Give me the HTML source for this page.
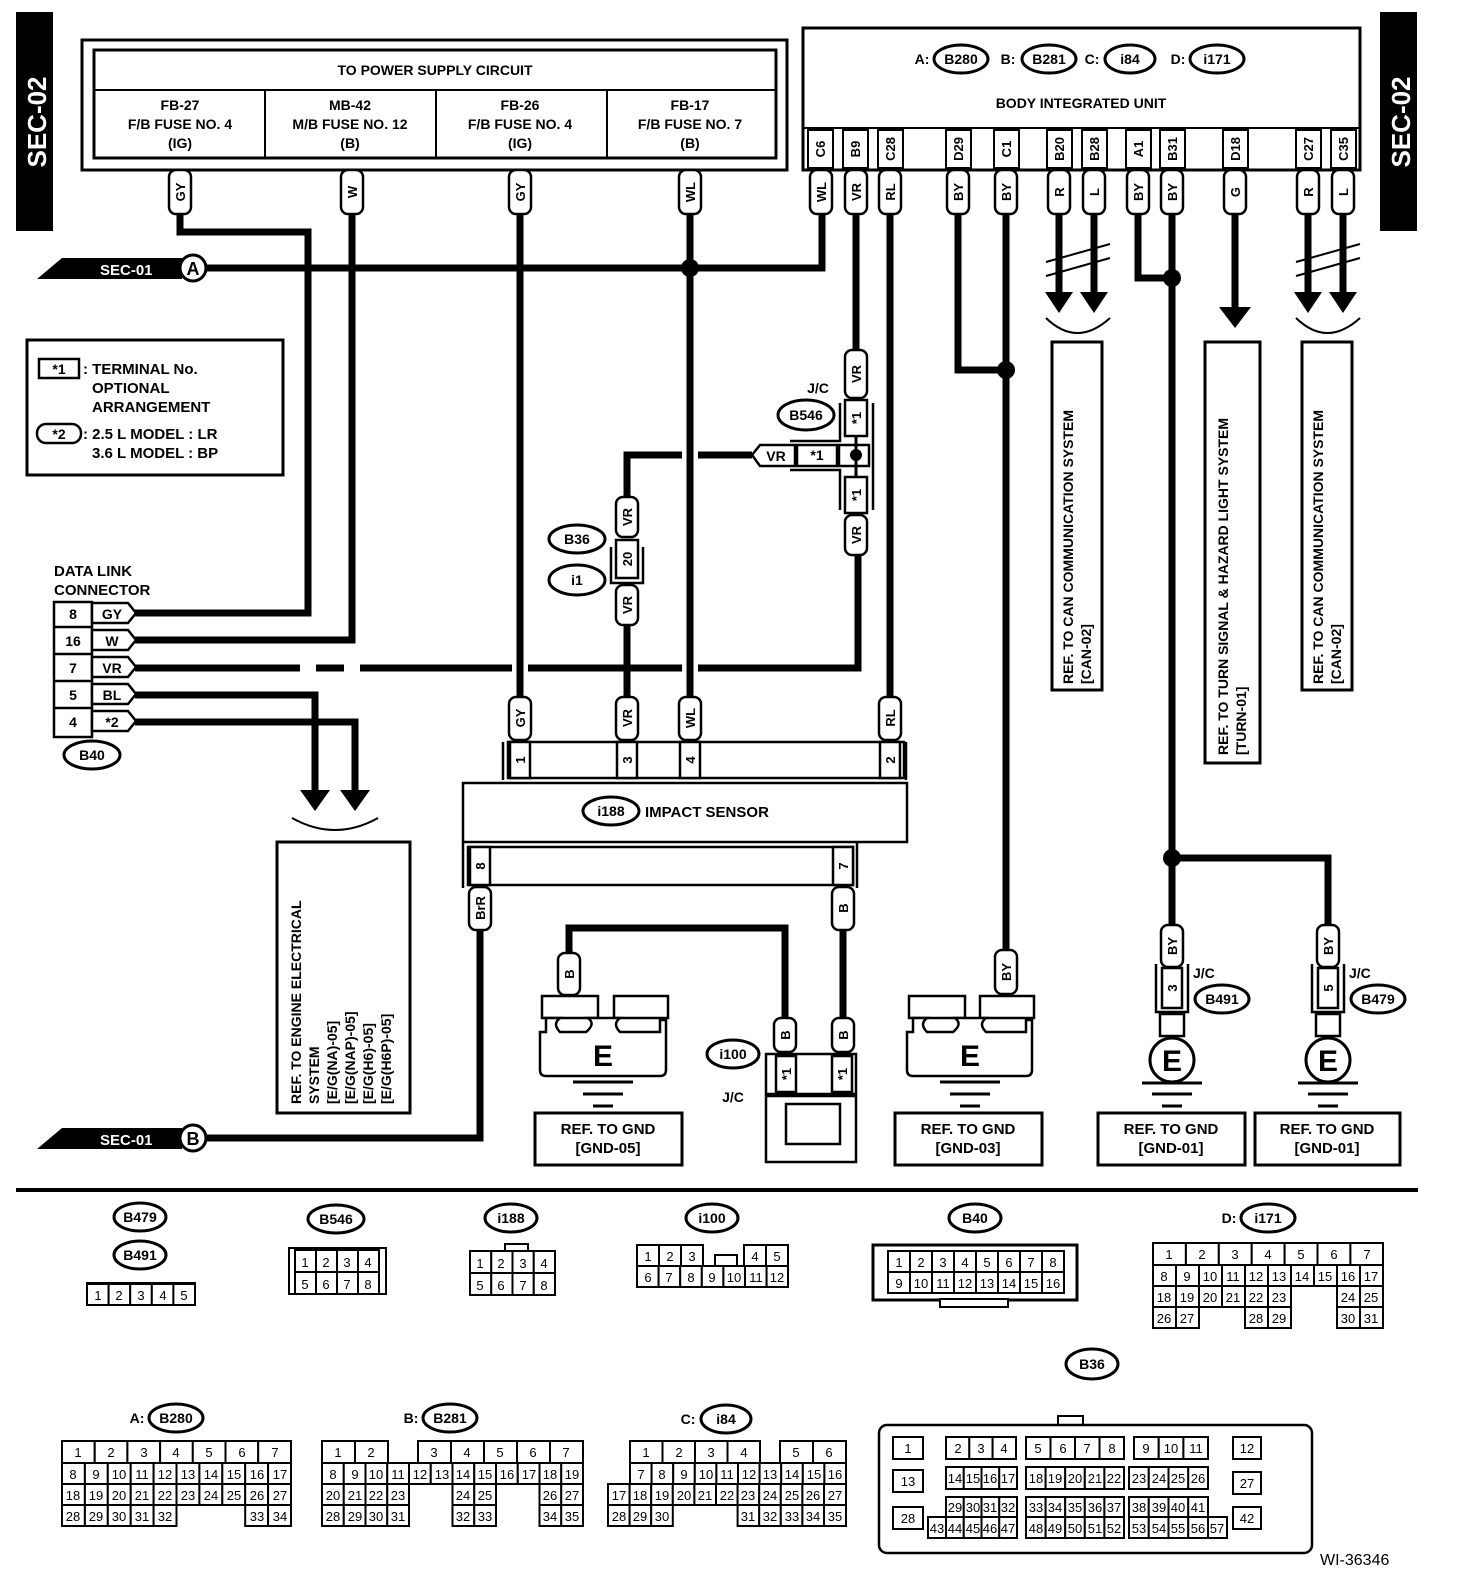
<!DOCTYPE html>
<html><head><meta charset="utf-8"><style>
html,body{margin:0;padding:0;background:#fff;}
svg{display:block;}
text{font-family:"Liberation Sans",sans-serif;font-weight:bold;fill:#000;}
.t{font-size:14px;text-anchor:middle;}
.tg{font-size:13px;text-anchor:middle;}
.g rect{fill:#fff;stroke:#000;stroke-width:2;}
.g text{font-size:13px;font-weight:normal;text-anchor:middle;}
.w{stroke:#000;stroke-width:7;fill:none;}
.tag{fill:#fff;stroke:#000;stroke-width:2.5;}
.ov{fill:#fff;stroke:#000;stroke-width:3;}
</style></head><body>
<svg width="1472" height="1596" viewBox="0 0 1472 1596" xmlns="http://www.w3.org/2000/svg">
<rect width="1472" height="1596" fill="#fff"/>
<!-- SEC-02 tabs -->
<rect x="16" y="12" width="37" height="219" fill="#000"/>
<text transform="translate(46,122) rotate(-90)" style="font-size:26px;fill:#fff;text-anchor:middle">SEC-02</text>
<rect x="1380" y="12" width="37" height="219" fill="#000"/>
<text transform="translate(1410,122) rotate(-90)" style="font-size:26px;fill:#fff;text-anchor:middle">SEC-02</text>

<!-- Power supply box -->
<rect x="82" y="40" width="705" height="130" fill="none" stroke="#000" stroke-width="3"/>
<rect x="94" y="50" width="682" height="108" fill="none" stroke="#000" stroke-width="3"/>
<line x1="94" y1="90" x2="776" y2="90" stroke="#000" stroke-width="2"/>
<line x1="265" y1="90" x2="265" y2="158" stroke="#000" stroke-width="2"/>
<line x1="436" y1="90" x2="436" y2="158" stroke="#000" stroke-width="2"/>
<line x1="607" y1="90" x2="607" y2="158" stroke="#000" stroke-width="2"/>
<text class="t" x="435" y="75">TO POWER SUPPLY CIRCUIT</text>
<text class="t" x="180" y="110">FB-27</text><text class="t" x="180" y="129">F/B FUSE NO. 4</text><text class="t" x="180" y="148">(IG)</text>
<text class="t" x="350" y="110">MB-42</text><text class="t" x="350" y="129">M/B FUSE NO. 12</text><text class="t" x="350" y="148">(B)</text>
<text class="t" x="520" y="110">FB-26</text><text class="t" x="520" y="129">F/B FUSE NO. 4</text><text class="t" x="520" y="148">(IG)</text>
<text class="t" x="690" y="110">FB-17</text><text class="t" x="690" y="129">F/B FUSE NO. 7</text><text class="t" x="690" y="148">(B)</text>

<!-- Body integrated unit -->
<rect x="803" y="28" width="557" height="142" fill="none" stroke="#000" stroke-width="3"/>
<line x1="803" y1="128" x2="1360" y2="128" stroke="#000" stroke-width="2"/>
<text class="t" x="922" y="64">A:</text><ellipse class="ov" cx="961" cy="59" rx="27" ry="14"/><text class="t" x="961" y="64">B280</text>
<text class="t" x="1008" y="64">B:</text><ellipse class="ov" cx="1049" cy="59" rx="27" ry="14"/><text class="t" x="1049" y="64">B281</text>
<text class="t" x="1092" y="64">C:</text><ellipse class="ov" cx="1130" cy="59" rx="25" ry="14"/><text class="t" x="1130" y="64">i84</text>
<text class="t" x="1178" y="64">D:</text><ellipse class="ov" cx="1217" cy="59" rx="27" ry="14"/><text class="t" x="1217" y="64">i171</text>
<text class="t" x="1081" y="108">BODY INTEGRATED UNIT</text>
<g stroke="#000" stroke-width="2" fill="#fff">
<rect x="808" y="130" width="25" height="38"/><rect x="843" y="130" width="25" height="38"/><rect x="878" y="130" width="25" height="38"/>
<rect x="946" y="130" width="25" height="38"/><rect x="994" y="130" width="25" height="38"/><rect x="1047" y="130" width="25" height="38"/>
<rect x="1082" y="130" width="25" height="38"/><rect x="1126" y="130" width="25" height="38"/><rect x="1160" y="130" width="25" height="38"/>
<rect x="1223" y="130" width="25" height="38"/><rect x="1296" y="130" width="25" height="38"/><rect x="1331" y="130" width="25" height="38"/>
</g>
<g class="tg">
<text transform="translate(825,149) rotate(-90)" class="tg">C6</text>
<text transform="translate(860,149) rotate(-90)" class="tg">B9</text>
<text transform="translate(895,149) rotate(-90)" class="tg">C28</text>
<text transform="translate(963,149) rotate(-90)" class="tg">D29</text>
<text transform="translate(1011,149) rotate(-90)" class="tg">C1</text>
<text transform="translate(1064,149) rotate(-90)" class="tg">B20</text>
<text transform="translate(1099,149) rotate(-90)" class="tg">B28</text>
<text transform="translate(1143,149) rotate(-90)" class="tg">A1</text>
<text transform="translate(1177,149) rotate(-90)" class="tg">B31</text>
<text transform="translate(1240,149) rotate(-90)" class="tg">D18</text>
<text transform="translate(1313,149) rotate(-90)" class="tg">C27</text>
<text transform="translate(1348,149) rotate(-90)" class="tg">C35</text>
</g>

<!-- SEC-01 A -->
<polygon points="37,279 62,258 182,258 182,279" fill="#000"/>
<text x="100" y="275" style="font-size:15px;fill:#fff">SEC-01</text>
<circle cx="193" cy="268" r="13" fill="#fff" stroke="#000" stroke-width="3"/>
<text class="t" x="193" y="275" style="font-size:18px">A</text>

<!-- Wires -->
<polyline class="w" points="180,214 180,232 308,232 308,613 135,613"/>
<polyline class="w" points="352,214 352,640 135,640"/>
<line class="w" x1="520" y1="214" x2="520" y2="697"/>
<line class="w" x1="690" y1="214" x2="690" y2="697"/>
<polyline class="w" points="205,268 822,268 822,214"/>
<circle cx="690" cy="268" r="9" fill="#000"/>
<line class="w" x1="856" y1="214" x2="856" y2="350"/>
<line class="w" x1="890" y1="214" x2="890" y2="697"/>
<polyline class="w" points="958,214 958,370 1006,370"/>
<line class="w" x1="1006" y1="214" x2="1006" y2="950"/>
<circle cx="1006" cy="370" r="9" fill="#000"/>
<line class="w" x1="1059" y1="214" x2="1059" y2="295"/>
<line class="w" x1="1094" y1="214" x2="1094" y2="295"/>
<polyline class="w" points="1138,214 1138,278 1172,278"/>
<line class="w" x1="1172" y1="214" x2="1172" y2="925"/>
<circle cx="1172" cy="278" r="9" fill="#000"/>
<polyline class="w" points="1172,858 1328,858 1328,925"/>
<circle cx="1172" cy="858" r="9" fill="#000"/>
<line class="w" x1="1235" y1="214" x2="1235" y2="310"/>
<line class="w" x1="1308" y1="214" x2="1308" y2="295"/>
<line class="w" x1="1343" y1="214" x2="1343" y2="295"/>
<!-- VR line with gaps -->
<polyline class="w" points="135,668 300,668"/>
<polyline class="w" points="316,668 344,668"/>
<polyline class="w" points="360,668 512,668"/>
<polyline class="w" points="528,668 682,668"/>
<polyline class="w" points="698,668 858,668 858,553"/>
<polyline class="w" points="135,695 315,695 315,795"/>
<polyline class="w" points="135,722 355,722 355,795"/>
<polyline class="w" points="752,455 698,455"/>
<polyline class="w" points="682,455 627,455 627,497"/>
<line class="w" x1="627" y1="623" x2="627" y2="697"/>
<polyline class="w" points="480,930 480,1138 205,1138"/>
<polyline class="w" points="843,930 843,1018"/>
<polyline class="w" points="569,958 569,928 785,928 785,1018"/>

<!-- arrows -->
<g fill="#000">
<polygon points="1045,292 1073,292 1059,313"/><polygon points="1080,292 1108,292 1094,313"/>
<polygon points="1294,292 1322,292 1308,313"/><polygon points="1329,292 1357,292 1343,313"/>
<polygon points="1219,307 1251,307 1235,328"/>
<polygon points="300,790 330,790 315,811"/><polygon points="340,790 370,790 355,811"/>
</g>
<g stroke="#000" fill="none" stroke-width="2">
<path d="M1046,318 Q1077,348 1110,318"/>
<path d="M1296,318 Q1327,348 1360,318"/>
<path d="M292,818 Q335,842 378,818"/>
<path d="M1046,262 L1110,244 M1046,276 L1110,258"/>
<path d="M1296,262 L1360,244 M1296,276 L1360,258"/>
</g>

<!-- Wire tags top -->
<g>
<rect class="tag" x="169" y="170" width="22" height="44" rx="7"/><text class="tg" transform="translate(185,192) rotate(-90)">GY</text>
<rect class="tag" x="341" y="170" width="22" height="44" rx="7"/><text class="tg" transform="translate(357,192) rotate(-90)">W</text>
<rect class="tag" x="509" y="170" width="22" height="44" rx="7"/><text class="tg" transform="translate(525,192) rotate(-90)">GY</text>
<rect class="tag" x="679" y="170" width="22" height="44" rx="7"/><text class="tg" transform="translate(695,192) rotate(-90)">WL</text>
<rect class="tag" x="810" y="170" width="22" height="44" rx="7"/><text class="tg" transform="translate(826,192) rotate(-90)">WL</text>
<rect class="tag" x="845" y="170" width="22" height="44" rx="7"/><text class="tg" transform="translate(861,192) rotate(-90)">VR</text>
<rect class="tag" x="879" y="170" width="22" height="44" rx="7"/><text class="tg" transform="translate(895,192) rotate(-90)">RL</text>
<rect class="tag" x="947" y="170" width="22" height="44" rx="7"/><text class="tg" transform="translate(963,192) rotate(-90)">BY</text>
<rect class="tag" x="995" y="170" width="22" height="44" rx="7"/><text class="tg" transform="translate(1011,192) rotate(-90)">BY</text>
<rect class="tag" x="1048" y="170" width="22" height="44" rx="7"/><text class="tg" transform="translate(1064,192) rotate(-90)">R</text>
<rect class="tag" x="1083" y="170" width="22" height="44" rx="7"/><text class="tg" transform="translate(1099,192) rotate(-90)">L</text>
<rect class="tag" x="1127" y="170" width="22" height="44" rx="7"/><text class="tg" transform="translate(1143,192) rotate(-90)">BY</text>
<rect class="tag" x="1161" y="170" width="22" height="44" rx="7"/><text class="tg" transform="translate(1177,192) rotate(-90)">BY</text>
<rect class="tag" x="1224" y="170" width="22" height="44" rx="7"/><text class="tg" transform="translate(1240,192) rotate(-90)">G</text>
<rect class="tag" x="1297" y="170" width="22" height="44" rx="7"/><text class="tg" transform="translate(1313,192) rotate(-90)">R</text>
<rect class="tag" x="1332" y="170" width="22" height="44" rx="7"/><text class="tg" transform="translate(1348,192) rotate(-90)">L</text>
</g>

<!-- REF boxes right -->
<g fill="none" stroke="#000" stroke-width="3">
<rect x="1052" y="342" width="50" height="348"/>
<rect x="1205" y="342" width="55" height="421"/>
<rect x="1302" y="342" width="50" height="348"/>
<rect x="277" y="842" width="133" height="271"/>
</g>
<text transform="translate(1073,684) rotate(-90)" style="font-size:14px">REF. TO CAN COMMUNICATION SYSTEM</text>
<text transform="translate(1091,684) rotate(-90)" style="font-size:14px">[CAN-02]</text>
<text transform="translate(1228,755) rotate(-90)" style="font-size:14px">REF. TO TURN SIGNAL &amp; HAZARD LIGHT SYSTEM</text>
<text transform="translate(1246,755) rotate(-90)" style="font-size:14px">[TURN-01]</text>
<text transform="translate(1323,684) rotate(-90)" style="font-size:14px">REF. TO CAN COMMUNICATION SYSTEM</text>
<text transform="translate(1341,684) rotate(-90)" style="font-size:14px">[CAN-02]</text>
<text transform="translate(301,1104) rotate(-90)" style="font-size:14px">REF. TO ENGINE ELECTRICAL</text>
<text transform="translate(319,1104) rotate(-90)" style="font-size:14px">SYSTEM</text>
<text transform="translate(337,1104) rotate(-90)" style="font-size:14px">[E/G(NA)-05]</text>
<text transform="translate(355,1104) rotate(-90)" style="font-size:14px">[E/G(NAP)-05]</text>
<text transform="translate(373,1104) rotate(-90)" style="font-size:14px">[E/G(H6)-05]</text>
<text transform="translate(391,1104) rotate(-90)" style="font-size:14px">[E/G(H6P)-05]</text>

<!-- Legend -->
<rect x="27" y="340" width="256" height="135" fill="none" stroke="#000" stroke-width="3"/>
<rect x="39" y="359" width="40" height="19" fill="#fff" stroke="#000" stroke-width="2.5"/>
<text class="t" x="59" y="374">*1</text>
<text x="83" y="374" style="font-size:15px">: TERMINAL No.</text>
<text x="92" y="393" style="font-size:15px">OPTIONAL</text>
<text x="92" y="412" style="font-size:15px">ARRANGEMENT</text>
<rect x="37" y="424" width="44" height="19" rx="9" fill="#fff" stroke="#000" stroke-width="2.5"/>
<text class="t" x="59" y="439">*2</text>
<text x="83" y="439" style="font-size:15px">: 2.5 L MODEL  : LR</text>
<text x="92" y="458" style="font-size:15px">3.6 L MODEL  : BP</text>

<!-- Data link connector -->
<text x="54" y="576" style="font-size:15px">DATA LINK</text>
<text x="54" y="595" style="font-size:15px">CONNECTOR</text>
<g stroke="#000" stroke-width="2.5" fill="#fff">
<rect x="54" y="602" width="38" height="135" />
<path d="M92,603 H128 L136,613 L128,623 H92 Z M92,630 H128 L136,640 L128,650 H92 Z M92,657 H128 L136,667 L128,677 H92 Z M92,684 H128 L136,694 L128,704 H92 Z M92,711 H128 L136,721 L128,731 H92 Z"/>
<line x1="54" y1="627" x2="92" y2="627"/><line x1="54" y1="654" x2="92" y2="654"/><line x1="54" y1="681" x2="92" y2="681"/><line x1="54" y1="708" x2="92" y2="708"/>
</g>
<text class="t" x="73" y="619">8</text><text class="t" x="73" y="646">16</text><text class="t" x="73" y="673">7</text><text class="t" x="73" y="700">5</text><text class="t" x="73" y="727">4</text>
<text class="t" x="112" y="619">GY</text><text class="t" x="112" y="646">W</text><text class="t" x="112" y="673">VR</text><text class="t" x="112" y="700">BL</text><text class="t" x="112" y="727">*2</text>
<ellipse class="ov" cx="92" cy="755" rx="28" ry="14"/><text class="t" x="92" y="760">B40</text>

<!-- B546 J/C -->
<text class="t" x="818" y="393">J/C</text>
<ellipse class="ov" cx="806" cy="415" rx="28" ry="15"/><text class="t" x="806" y="420">B546</text>
<rect class="tag" x="845" y="350" width="22" height="48" rx="7"/><text class="tg" transform="translate(861,374) rotate(-90)">VR</text>
<g stroke="#000" stroke-width="2.5" fill="#fff">
<rect x="845" y="400" width="22" height="36"/><rect x="845" y="477" width="22" height="36"/>
<rect x="797" y="445" width="40" height="21"/>
<rect x="839" y="445" width="30" height="21"/>
</g>
<g stroke="#000" stroke-width="2.5" fill="none">
<path d="M840,403 V441 H790 M873,403 V510 M840,510 V470 H790"/>
</g>
<line x1="856" y1="436" x2="856" y2="477" stroke="#000" stroke-width="3"/>
<circle cx="856" cy="455" r="6" fill="#000"/>
<text class="tg" transform="translate(861,418) rotate(-90)">*1</text>
<text class="tg" transform="translate(861,495) rotate(-90)">*1</text>
<text class="t" x="817" y="460">*1</text>
<path class="tag" d="M752,455 L760,445 H795 V466 H760 Z"/><text class="t" x="776" y="461">VR</text>
<rect class="tag" x="845" y="515" width="22" height="40" rx="7"/><text class="tg" transform="translate(861,535) rotate(-90)">VR</text>

<!-- B36/i1 -->
<rect class="tag" x="616" y="497" width="22" height="40" rx="7"/><text class="tg" transform="translate(632,517) rotate(-90)">VR</text>
<rect x="616" y="540" width="22" height="38" fill="#fff" stroke="#000" stroke-width="2.5"/><text class="tg" transform="translate(632,559) rotate(-90)">20</text>
<path d="M611,547 V583 H643 V547" fill="none" stroke="#000" stroke-width="2.5"/>
<rect class="tag" x="616" y="585" width="22" height="40" rx="7"/><text class="tg" transform="translate(632,605) rotate(-90)">VR</text>
<ellipse class="ov" cx="577" cy="539" rx="28" ry="14"/><text class="t" x="577" y="544">B36</text>
<ellipse class="ov" cx="577" cy="580" rx="28" ry="15"/><text class="t" x="577" y="585">i1</text>

<!-- i188 impact sensor -->
<g>
<rect class="tag" x="509" y="697" width="22" height="43" rx="7"/><text class="tg" transform="translate(525,718) rotate(-90)">GY</text>
<rect class="tag" x="616" y="697" width="22" height="43" rx="7"/><text class="tg" transform="translate(632,718) rotate(-90)">VR</text>
<rect class="tag" x="679" y="697" width="22" height="43" rx="7"/><text class="tg" transform="translate(695,718) rotate(-90)">WL</text>
<rect class="tag" x="879" y="697" width="22" height="43" rx="7"/><text class="tg" transform="translate(895,718) rotate(-90)">RL</text>
</g>
<g stroke="#000" stroke-width="2.5" fill="none">
<path d="M503,780 V742 M906,780 V742"/>
<rect x="508" y="742" width="396" height="36"/>
<rect x="463" y="783" width="444" height="59"/>
<rect x="468" y="847" width="385" height="38"/>
<path d="M463,842 V888 M857,842 V888"/>
</g>
<g stroke="#000" stroke-width="2.5" fill="#fff">
<rect x="510" y="742" width="20" height="36"/><rect x="617" y="742" width="20" height="36"/><rect x="680" y="742" width="20" height="36"/><rect x="880" y="742" width="20" height="36"/>
<rect x="470" y="847" width="20" height="38"/><rect x="833" y="847" width="20" height="38"/>
</g>
<text class="tg" transform="translate(525,760) rotate(-90)">1</text>
<text class="tg" transform="translate(632,760) rotate(-90)">3</text>
<text class="tg" transform="translate(695,760) rotate(-90)">4</text>
<text class="tg" transform="translate(895,760) rotate(-90)">2</text>
<text class="tg" transform="translate(485,866) rotate(-90)">8</text>
<text class="tg" transform="translate(848,866) rotate(-90)">7</text>
<ellipse class="ov" cx="611" cy="811" rx="28" ry="14"/><text class="t" x="611" y="816">i188</text>
<text x="645" y="817" style="font-size:15px">IMPACT SENSOR</text>
<rect class="tag" x="469" y="887" width="22" height="43" rx="7"/><text class="tg" transform="translate(485,908) rotate(-90)">BrR</text>
<rect class="tag" x="832" y="887" width="22" height="43" rx="7"/><text class="tg" transform="translate(848,908) rotate(-90)">B</text>

<!-- SEC-01 B -->
<polygon points="37,1149 62,1128 182,1128 182,1149" fill="#000"/>
<text x="100" y="1145" style="font-size:15px;fill:#fff">SEC-01</text>
<circle cx="193" cy="1138" r="13" fill="#fff" stroke="#000" stroke-width="3"/>
<text class="t" x="193" y="1145" style="font-size:18px">B</text>

<!-- Ground left -->
<rect class="tag" x="558" y="953" width="22" height="42" rx="7"/><text class="tg" transform="translate(574,974) rotate(-90)">B</text>
<g stroke="#000" stroke-width="2.5" fill="#fff">
<rect x="542" y="996" width="56" height="22"/><rect x="614" y="996" width="54" height="22"/>
<path d="M546,1018 H560 Q552,1024 560,1032 H586 Q596,1024 588,1018 H620 Q612,1024 620,1032 H660 V1020 H666 V1070 Q666,1076 660,1076 H546 Q540,1076 540,1070 V1032 H546 Z"/>
</g>
<text class="t" x="603" y="1066" style="font-size:30px">E</text>
<g stroke="#000" stroke-width="3"><line x1="573" y1="1082" x2="633" y2="1082"/><line x1="583" y1="1094" x2="623" y2="1094"/><line x1="593" y1="1106" x2="613" y2="1106"/></g>
<rect x="535" y="1113" width="147" height="52" fill="none" stroke="#000" stroke-width="3"/>
<text class="t" x="608" y="1134" style="font-size:15px">REF. TO GND</text><text class="t" x="608" y="1153" style="font-size:15px">[GND-05]</text>

<!-- Ground middle -->
<rect class="tag" x="995" y="950" width="22" height="44" rx="7"/><text class="tg" transform="translate(1011,972) rotate(-90)">BY</text>
<g stroke="#000" stroke-width="2.5" fill="#fff">
<rect x="909" y="996" width="56" height="22"/><rect x="980" y="996" width="54" height="22"/>
<path d="M913,1018 H927 Q919,1024 927,1032 H953 Q963,1024 955,1018 H986 Q978,1024 986,1032 H1026 V1020 H1032 V1070 Q1032,1076 1026,1076 H913 Q907,1076 907,1070 V1032 H913 Z"/>
</g>
<text class="t" x="970" y="1066" style="font-size:30px">E</text>
<g stroke="#000" stroke-width="3"><line x1="940" y1="1082" x2="1000" y2="1082"/><line x1="950" y1="1094" x2="990" y2="1094"/><line x1="960" y1="1106" x2="980" y2="1106"/></g>
<rect x="895" y="1113" width="147" height="52" fill="none" stroke="#000" stroke-width="3"/>
<text class="t" x="968" y="1134" style="font-size:15px">REF. TO GND</text><text class="t" x="968" y="1153" style="font-size:15px">[GND-03]</text>

<!-- Ground B491 / B479 -->
<g>
<rect class="tag" x="1161" y="925" width="22" height="42" rx="7"/><text class="tg" transform="translate(1177,946) rotate(-90)">BY</text>
<rect x="1162" y="968" width="20" height="40" fill="#fff" stroke="#000" stroke-width="2.5"/><text class="tg" transform="translate(1177,988) rotate(-90)">3</text>
<path d="M1156,964 V1012 H1188 V964" fill="none" stroke="#000" stroke-width="2.5"/>
<rect x="1160" y="1014" width="24" height="22" fill="#fff" stroke="#000" stroke-width="2.5"/>
<circle cx="1172" cy="1060" r="22" fill="#fff" stroke="#000" stroke-width="3"/>
<text class="t" x="1172" y="1071" style="font-size:30px">E</text>
<g stroke="#000" stroke-width="3"><line x1="1142" y1="1083" x2="1202" y2="1083"/><line x1="1152" y1="1094" x2="1192" y2="1094"/><line x1="1162" y1="1106" x2="1182" y2="1106"/></g>
<text x="1193" y="978" style="font-size:14px">J/C</text>
<ellipse class="ov" cx="1222" cy="999" rx="27" ry="14"/><text class="t" x="1222" y="1004">B491</text>
<rect x="1098" y="1113" width="147" height="52" fill="none" stroke="#000" stroke-width="3"/>
<text class="t" x="1171" y="1134" style="font-size:15px">REF. TO GND</text><text class="t" x="1171" y="1153" style="font-size:15px">[GND-01]</text>
</g>
<g>
<rect class="tag" x="1317" y="925" width="22" height="42" rx="7"/><text class="tg" transform="translate(1333,946) rotate(-90)">BY</text>
<rect x="1318" y="968" width="20" height="40" fill="#fff" stroke="#000" stroke-width="2.5"/><text class="tg" transform="translate(1333,988) rotate(-90)">5</text>
<path d="M1312,964 V1012 H1344 V964" fill="none" stroke="#000" stroke-width="2.5"/>
<rect x="1316" y="1014" width="24" height="22" fill="#fff" stroke="#000" stroke-width="2.5"/>
<circle cx="1328" cy="1060" r="22" fill="#fff" stroke="#000" stroke-width="3"/>
<text class="t" x="1328" y="1071" style="font-size:30px">E</text>
<g stroke="#000" stroke-width="3"><line x1="1298" y1="1083" x2="1358" y2="1083"/><line x1="1308" y1="1094" x2="1348" y2="1094"/><line x1="1318" y1="1106" x2="1338" y2="1106"/></g>
<text x="1349" y="978" style="font-size:14px">J/C</text>
<ellipse class="ov" cx="1378" cy="999" rx="27" ry="14"/><text class="t" x="1378" y="1004">B479</text>
<rect x="1255" y="1113" width="145" height="52" fill="none" stroke="#000" stroke-width="3"/>
<text class="t" x="1327" y="1134" style="font-size:15px">REF. TO GND</text><text class="t" x="1327" y="1153" style="font-size:15px">[GND-01]</text>
</g>

<!-- i100 J/C -->
<rect class="tag" x="774" y="1018" width="22" height="34" rx="7"/><text class="tg" transform="translate(790,1035) rotate(-90)">B</text>
<rect class="tag" x="832" y="1018" width="22" height="34" rx="7"/><text class="tg" transform="translate(848,1035) rotate(-90)">B</text>
<g stroke="#000" stroke-width="2.5" fill="#fff">
<rect x="766" y="1054" width="90" height="40"/>
<rect x="776" y="1056" width="20" height="36"/><rect x="832" y="1056" width="20" height="36"/>
<rect x="766" y="1096" width="90" height="66"/>
<rect x="786" y="1104" width="54" height="40"/>
</g>
<text class="tg" transform="translate(791,1074) rotate(-90)">*1</text>
<text class="tg" transform="translate(847,1074) rotate(-90)">*1</text>
<ellipse class="ov" cx="733" cy="1054" rx="26" ry="14"/><text class="t" x="733" y="1059">i100</text>
<text class="t" x="733" y="1102">J/C</text>

<!-- separator -->
<line x1="16" y1="1190" x2="1418" y2="1190" stroke="#000" stroke-width="4"/>

<!-- bottom connectors -->
<ellipse class="ov" cx="140" cy="1217" rx="26" ry="14"/><text class="t" x="140" y="1222">B479</text>
<ellipse class="ov" cx="140" cy="1255" rx="26" ry="14"/><text class="t" x="140" y="1260">B491</text>
<g class="g">
<rect x="87" y="1283" width="108" height="22"/>
<rect x="87" y="1284" width="21.6" height="21"/><rect x="108.6" y="1284" width="21.6" height="21"/><rect x="130.2" y="1284" width="21.6" height="21"/><rect x="151.8" y="1284" width="21.6" height="21"/><rect x="173.4" y="1284" width="21.6" height="21"/>
<text x="98" y="1300">1</text><text x="119" y="1300">2</text><text x="141" y="1300">3</text><text x="163" y="1300">4</text><text x="184" y="1300">5</text>
</g>

<ellipse class="ov" cx="336" cy="1219" rx="28" ry="14"/><text class="t" x="336" y="1224">B546</text>
<g class="g">
<rect x="289" y="1248" width="97" height="46"/>
<rect x="295" y="1250" width="21" height="22"/><rect x="316" y="1250" width="21" height="22"/><rect x="337" y="1250" width="21" height="22"/><rect x="358" y="1250" width="21" height="22"/>
<rect x="295" y="1272" width="21" height="22"/><rect x="316" y="1272" width="21" height="22"/><rect x="337" y="1272" width="21" height="22"/><rect x="358" y="1272" width="21" height="22"/>
<text x="305" y="1267">1</text><text x="326" y="1267">2</text><text x="347" y="1267">3</text><text x="368" y="1267">4</text>
<text x="305" y="1289">5</text><text x="326" y="1289">6</text><text x="347" y="1289">7</text><text x="368" y="1289">8</text>
</g>

<ellipse class="ov" cx="511" cy="1218" rx="26" ry="14"/><text class="t" x="511" y="1223">i188</text>
<g class="g">
<rect x="505" y="1244" width="23" height="8"/>
<rect x="470" y="1251" width="21.25" height="22"/><rect x="491.25" y="1251" width="21.25" height="22"/><rect x="512.5" y="1251" width="21.25" height="22"/><rect x="533.75" y="1251" width="21.25" height="22"/>
<rect x="470" y="1273" width="21.25" height="22"/><rect x="491.25" y="1273" width="21.25" height="22"/><rect x="512.5" y="1273" width="21.25" height="22"/><rect x="533.75" y="1273" width="21.25" height="22"/>
<text x="480" y="1268">1</text><text x="501" y="1268">2</text><text x="523" y="1268">3</text><text x="544" y="1268">4</text>
<text x="480" y="1290">5</text><text x="501" y="1290">6</text><text x="523" y="1290">7</text><text x="544" y="1290">8</text>
</g>

<ellipse class="ov" cx="712" cy="1218" rx="26" ry="14"/><text class="t" x="712" y="1223">i100</text>
<g class="g">
<rect x="637" y="1245" width="22" height="21"/><rect x="659" y="1245" width="22" height="21"/><rect x="681" y="1245" width="22" height="21"/>
<rect x="715" y="1255" width="22" height="11"/>
<rect x="744" y="1245" width="22" height="21"/><rect x="766" y="1245" width="22" height="21"/>
<rect x="637" y="1266" width="21.6" height="21"/><rect x="658.6" y="1266" width="21.6" height="21"/><rect x="680.2" y="1266" width="21.6" height="21"/><rect x="701.8" y="1266" width="21.6" height="21"/><rect x="723.4" y="1266" width="21.6" height="21"/><rect x="745" y="1266" width="21.6" height="21"/><rect x="766.6" y="1266" width="21.4" height="21"/>
<text x="648" y="1261">1</text><text x="670" y="1261">2</text><text x="692" y="1261">3</text><text x="755" y="1261">4</text><text x="777" y="1261">5</text>
<text x="648" y="1282">6</text><text x="669" y="1282">7</text><text x="691" y="1282">8</text><text x="712" y="1282">9</text><text x="734" y="1282">10</text><text x="756" y="1282">11</text><text x="777" y="1282">12</text>
</g>

<ellipse class="ov" cx="975" cy="1218" rx="26" ry="14"/><text class="t" x="975" y="1223">B40</text>
<g class="g">
<rect x="873" y="1245" width="204" height="55" style="stroke-width:3"/>
<rect x="940" y="1299" width="68" height="8"/>
<rect x="888" y="1251" width="22" height="21"/><rect x="910" y="1251" width="22" height="21"/><rect x="932" y="1251" width="22" height="21"/><rect x="954" y="1251" width="22" height="21"/><rect x="976" y="1251" width="22" height="21"/><rect x="998" y="1251" width="22" height="21"/><rect x="1020" y="1251" width="22" height="21"/><rect x="1042" y="1251" width="22" height="21"/>
<rect x="888" y="1272" width="22" height="21"/><rect x="910" y="1272" width="22" height="21"/><rect x="932" y="1272" width="22" height="21"/><rect x="954" y="1272" width="22" height="21"/><rect x="976" y="1272" width="22" height="21"/><rect x="998" y="1272" width="22" height="21"/><rect x="1020" y="1272" width="22" height="21"/><rect x="1042" y="1272" width="22" height="21"/>
<text x="899" y="1267">1</text><text x="921" y="1267">2</text><text x="943" y="1267">3</text><text x="965" y="1267">4</text><text x="987" y="1267">5</text><text x="1009" y="1267">6</text><text x="1031" y="1267">7</text><text x="1053" y="1267">8</text>
<text x="899" y="1288">9</text><text x="921" y="1288">10</text><text x="943" y="1288">11</text><text x="965" y="1288">12</text><text x="987" y="1288">13</text><text x="1009" y="1288">14</text><text x="1031" y="1288">15</text><text x="1053" y="1288">16</text>
</g>

<text class="t" x="1229" y="1223">D:</text><ellipse class="ov" cx="1268" cy="1218" rx="27" ry="14"/><text class="t" x="1268" y="1223">i171</text>
<g class="g">
<rect x="1153" y="1243" width="32.9" height="22"/><rect x="1185.9" y="1243" width="32.9" height="22"/><rect x="1218.8" y="1243" width="32.9" height="22"/><rect x="1251.7" y="1243" width="32.9" height="22"/><rect x="1284.6" y="1243" width="32.9" height="22"/><rect x="1317.5" y="1243" width="32.9" height="22"/><rect x="1350.4" y="1243" width="32.6" height="22"/>
<text x="1169" y="1259">1</text><text x="1202" y="1259">2</text><text x="1235" y="1259">3</text><text x="1268" y="1259">4</text><text x="1301" y="1259">5</text><text x="1334" y="1259">6</text><text x="1367" y="1259">7</text>
<rect x="1153" y="1265" width="23" height="21"/><rect x="1176" y="1265" width="23" height="21"/><rect x="1199" y="1265" width="23" height="21"/><rect x="1222" y="1265" width="23" height="21"/><rect x="1245" y="1265" width="23" height="21"/><rect x="1268" y="1265" width="23" height="21"/><rect x="1291" y="1265" width="23" height="21"/><rect x="1314" y="1265" width="23" height="21"/><rect x="1337" y="1265" width="23" height="21"/><rect x="1360" y="1265" width="23" height="21"/>
<text x="1164" y="1281">8</text><text x="1187" y="1281">9</text><text x="1210" y="1281">10</text><text x="1233" y="1281">11</text><text x="1256" y="1281">12</text><text x="1279" y="1281">13</text><text x="1302" y="1281">14</text><text x="1325" y="1281">15</text><text x="1348" y="1281">16</text><text x="1371" y="1281">17</text>
<rect x="1153" y="1286" width="23" height="21"/><rect x="1176" y="1286" width="23" height="21"/><rect x="1199" y="1286" width="23" height="21"/><rect x="1222" y="1286" width="23" height="21"/><rect x="1245" y="1286" width="23" height="21"/><rect x="1268" y="1286" width="23" height="21"/><rect x="1337" y="1286" width="23" height="21"/><rect x="1360" y="1286" width="23" height="21"/>
<text x="1164" y="1302">18</text><text x="1187" y="1302">19</text><text x="1210" y="1302">20</text><text x="1233" y="1302">21</text><text x="1256" y="1302">22</text><text x="1279" y="1302">23</text><text x="1348" y="1302">24</text><text x="1371" y="1302">25</text>
<rect x="1153" y="1307" width="23" height="21"/><rect x="1176" y="1307" width="23" height="21"/><rect x="1245" y="1307" width="23" height="21"/><rect x="1268" y="1307" width="23" height="21"/><rect x="1337" y="1307" width="23" height="21"/><rect x="1360" y="1307" width="23" height="21"/>
<text x="1164" y="1323">26</text><text x="1187" y="1323">27</text><text x="1256" y="1323">28</text><text x="1279" y="1323">29</text><text x="1348" y="1323">30</text><text x="1371" y="1323">31</text>
</g>

<!-- A:B280 -->
<text class="t" x="137" y="1423">A:</text><ellipse class="ov" cx="176" cy="1418" rx="27" ry="14"/><text class="t" x="176" y="1423">B280</text>
<g class="g">
<rect x="62" y="1441" width="32.7" height="22"/><rect x="94.7" y="1441" width="32.7" height="22"/><rect x="127.4" y="1441" width="32.7" height="22"/><rect x="160.1" y="1441" width="32.7" height="22"/><rect x="192.8" y="1441" width="32.7" height="22"/><rect x="225.5" y="1441" width="32.7" height="22"/><rect x="258.2" y="1441" width="32.8" height="22"/>
<text x="78" y="1457">1</text><text x="111" y="1457">2</text><text x="144" y="1457">3</text><text x="176" y="1457">4</text><text x="209" y="1457">5</text><text x="242" y="1457">6</text><text x="275" y="1457">7</text>
<rect x="62" y="1463" width="22.9" height="21"/><rect x="84.9" y="1463" width="22.9" height="21"/><rect x="107.8" y="1463" width="22.9" height="21"/><rect x="130.7" y="1463" width="22.9" height="21"/><rect x="153.6" y="1463" width="22.9" height="21"/><rect x="176.5" y="1463" width="22.9" height="21"/><rect x="199.4" y="1463" width="22.9" height="21"/><rect x="222.3" y="1463" width="22.9" height="21"/><rect x="245.2" y="1463" width="22.9" height="21"/><rect x="268.1" y="1463" width="22.9" height="21"/>
<text x="73" y="1479">8</text><text x="96" y="1479">9</text><text x="119" y="1479">10</text><text x="142" y="1479">11</text><text x="165" y="1479">12</text><text x="188" y="1479">13</text><text x="211" y="1479">14</text><text x="234" y="1479">15</text><text x="257" y="1479">16</text><text x="280" y="1479">17</text>
<rect x="62" y="1484" width="22.9" height="21"/><rect x="84.9" y="1484" width="22.9" height="21"/><rect x="107.8" y="1484" width="22.9" height="21"/><rect x="130.7" y="1484" width="22.9" height="21"/><rect x="153.6" y="1484" width="22.9" height="21"/><rect x="176.5" y="1484" width="22.9" height="21"/><rect x="199.4" y="1484" width="22.9" height="21"/><rect x="222.3" y="1484" width="22.9" height="21"/><rect x="245.2" y="1484" width="22.9" height="21"/><rect x="268.1" y="1484" width="22.9" height="21"/>
<text x="73" y="1500">18</text><text x="96" y="1500">19</text><text x="119" y="1500">20</text><text x="142" y="1500">21</text><text x="165" y="1500">22</text><text x="188" y="1500">23</text><text x="211" y="1500">24</text><text x="234" y="1500">25</text><text x="257" y="1500">26</text><text x="280" y="1500">27</text>
<rect x="62" y="1505" width="22.9" height="21"/><rect x="84.9" y="1505" width="22.9" height="21"/><rect x="107.8" y="1505" width="22.9" height="21"/><rect x="130.7" y="1505" width="22.9" height="21"/><rect x="153.6" y="1505" width="22.9" height="21"/><rect x="245.2" y="1505" width="22.9" height="21"/><rect x="268.1" y="1505" width="22.9" height="21"/>
<text x="73" y="1521">28</text><text x="96" y="1521">29</text><text x="119" y="1521">30</text><text x="142" y="1521">31</text><text x="165" y="1521">32</text><text x="257" y="1521">33</text><text x="280" y="1521">34</text>
</g>

<!-- B:B281 -->
<text class="t" x="411" y="1423">B:</text><ellipse class="ov" cx="450" cy="1418" rx="27" ry="14"/><text class="t" x="450" y="1423">B281</text>
<g class="g">
<rect x="322" y="1441" width="33" height="22"/><rect x="355" y="1441" width="33" height="22"/>
<rect x="418" y="1441" width="33" height="22"/><rect x="451" y="1441" width="33" height="22"/><rect x="484" y="1441" width="33" height="22"/><rect x="517" y="1441" width="33" height="22"/><rect x="550" y="1441" width="33" height="22"/>
<text x="338" y="1457">1</text><text x="371" y="1457">2</text><text x="434" y="1457">3</text><text x="467" y="1457">4</text><text x="500" y="1457">5</text><text x="533" y="1457">6</text><text x="566" y="1457">7</text>
<rect x="322" y="1463" width="21.75" height="21"/><rect x="343.75" y="1463" width="21.75" height="21"/><rect x="365.5" y="1463" width="21.75" height="21"/><rect x="387.25" y="1463" width="21.75" height="21"/><rect x="409" y="1463" width="21.75" height="21"/><rect x="430.75" y="1463" width="21.75" height="21"/><rect x="452.5" y="1463" width="21.75" height="21"/><rect x="474.25" y="1463" width="21.75" height="21"/><rect x="496" y="1463" width="21.75" height="21"/><rect x="517.75" y="1463" width="21.75" height="21"/><rect x="539.5" y="1463" width="21.75" height="21"/><rect x="561.25" y="1463" width="21.75" height="21"/>
<text x="333" y="1479">8</text><text x="355" y="1479">9</text><text x="376" y="1479">10</text><text x="398" y="1479">11</text><text x="420" y="1479">12</text><text x="442" y="1479">13</text><text x="463" y="1479">14</text><text x="485" y="1479">15</text><text x="507" y="1479">16</text><text x="529" y="1479">17</text><text x="550" y="1479">18</text><text x="572" y="1479">19</text>
<rect x="322" y="1484" width="21.75" height="21"/><rect x="343.75" y="1484" width="21.75" height="21"/><rect x="365.5" y="1484" width="21.75" height="21"/><rect x="387.25" y="1484" width="21.75" height="21"/><rect x="452.5" y="1484" width="21.75" height="21"/><rect x="474.25" y="1484" width="21.75" height="21"/><rect x="539.5" y="1484" width="21.75" height="21"/><rect x="561.25" y="1484" width="21.75" height="21"/>
<text x="333" y="1500">20</text><text x="355" y="1500">21</text><text x="376" y="1500">22</text><text x="398" y="1500">23</text><text x="463" y="1500">24</text><text x="485" y="1500">25</text><text x="550" y="1500">26</text><text x="572" y="1500">27</text>
<rect x="322" y="1505" width="21.75" height="21"/><rect x="343.75" y="1505" width="21.75" height="21"/><rect x="365.5" y="1505" width="21.75" height="21"/><rect x="387.25" y="1505" width="21.75" height="21"/><rect x="452.5" y="1505" width="21.75" height="21"/><rect x="474.25" y="1505" width="21.75" height="21"/><rect x="539.5" y="1505" width="21.75" height="21"/><rect x="561.25" y="1505" width="21.75" height="21"/>
<text x="333" y="1521">28</text><text x="355" y="1521">29</text><text x="376" y="1521">30</text><text x="398" y="1521">31</text><text x="463" y="1521">32</text><text x="485" y="1521">33</text><text x="550" y="1521">34</text><text x="572" y="1521">35</text>
</g>

<!-- C:i84 -->
<text class="t" x="688" y="1424">C:</text><ellipse class="ov" cx="726" cy="1419" rx="25" ry="14"/><text class="t" x="726" y="1424">i84</text>
<g class="g">
<rect x="630" y="1441" width="32.5" height="22"/><rect x="662.5" y="1441" width="32.5" height="22"/><rect x="695" y="1441" width="32.5" height="22"/><rect x="727.5" y="1441" width="32.5" height="22"/>
<rect x="780" y="1441" width="33" height="22"/><rect x="813" y="1441" width="33" height="22"/>
<text x="646" y="1457">1</text><text x="679" y="1457">2</text><text x="711" y="1457">3</text><text x="744" y="1457">4</text><text x="796" y="1457">5</text><text x="829" y="1457">6</text>
<rect x="630" y="1463" width="21.6" height="21"/><rect x="651.6" y="1463" width="21.6" height="21"/><rect x="673.2" y="1463" width="21.6" height="21"/><rect x="694.8" y="1463" width="21.6" height="21"/><rect x="716.4" y="1463" width="21.6" height="21"/><rect x="738" y="1463" width="21.6" height="21"/><rect x="759.6" y="1463" width="21.6" height="21"/><rect x="781.2" y="1463" width="21.6" height="21"/><rect x="802.8" y="1463" width="21.6" height="21"/><rect x="824.4" y="1463" width="21.6" height="21"/>
<text x="641" y="1479">7</text><text x="662" y="1479">8</text><text x="684" y="1479">9</text><text x="706" y="1479">10</text><text x="727" y="1479">11</text><text x="749" y="1479">12</text><text x="770" y="1479">13</text><text x="792" y="1479">14</text><text x="814" y="1479">15</text><text x="835" y="1479">16</text>
<rect x="608" y="1484" width="21.6" height="21"/><rect x="629.6" y="1484" width="21.6" height="21"/><rect x="651.2" y="1484" width="21.6" height="21"/><rect x="672.8" y="1484" width="21.6" height="21"/><rect x="694.4" y="1484" width="21.6" height="21"/><rect x="716" y="1484" width="21.6" height="21"/><rect x="737.6" y="1484" width="21.6" height="21"/><rect x="759.2" y="1484" width="21.6" height="21"/><rect x="780.8" y="1484" width="21.6" height="21"/><rect x="802.4" y="1484" width="21.6" height="21"/><rect x="824" y="1484" width="22" height="21"/>
<text x="619" y="1500">17</text><text x="640" y="1500">18</text><text x="662" y="1500">19</text><text x="684" y="1500">20</text><text x="705" y="1500">21</text><text x="727" y="1500">22</text><text x="748" y="1500">23</text><text x="770" y="1500">24</text><text x="792" y="1500">25</text><text x="813" y="1500">26</text><text x="835" y="1500">27</text>
<rect x="608" y="1505" width="21.6" height="21"/><rect x="629.6" y="1505" width="21.6" height="21"/><rect x="651.2" y="1505" width="21.6" height="21"/><rect x="737.6" y="1505" width="21.6" height="21"/><rect x="759.2" y="1505" width="21.6" height="21"/><rect x="780.8" y="1505" width="21.6" height="21"/><rect x="802.4" y="1505" width="21.6" height="21"/><rect x="824" y="1505" width="22" height="21"/>
<text x="619" y="1521">28</text><text x="640" y="1521">29</text><text x="662" y="1521">30</text><text x="748" y="1521">31</text><text x="770" y="1521">32</text><text x="792" y="1521">33</text><text x="813" y="1521">34</text><text x="835" y="1521">35</text>
</g>

<!-- B36 -->
<ellipse class="ov" cx="1092" cy="1364" rx="26" ry="15"/><text class="t" x="1092" y="1369">B36</text>
<g class="g">
<rect x="1058" y="1416" width="25" height="12" style="stroke-width:2"/>
<rect x="879" y="1425" width="433" height="128" rx="8" style="stroke-width:2.5"/>
<rect x="893" y="1437" width="30" height="22"/>
<rect x="946" y="1437" width="23.3" height="22"/><rect x="969.3" y="1437" width="23.3" height="22"/><rect x="992.6" y="1437" width="23.4" height="22"/>
<rect x="1026" y="1437" width="24.5" height="22"/><rect x="1050.5" y="1437" width="24.5" height="22"/><rect x="1075" y="1437" width="24.5" height="22"/><rect x="1099.5" y="1437" width="24.5" height="22"/>
<rect x="1134" y="1437" width="24.7" height="22"/><rect x="1158.7" y="1437" width="24.7" height="22"/><rect x="1183.4" y="1437" width="24.6" height="22"/>
<rect x="1233" y="1437" width="28" height="22"/>
<text x="908" y="1453">1</text><text x="958" y="1453">2</text><text x="981" y="1453">3</text><text x="1004" y="1453">4</text><text x="1038" y="1453">5</text><text x="1063" y="1453">6</text><text x="1087" y="1453">7</text><text x="1112" y="1453">8</text><text x="1146" y="1453">9</text><text x="1171" y="1453">10</text><text x="1196" y="1453">11</text><text x="1247" y="1453">12</text>
<rect x="893" y="1470" width="30" height="22"/><rect x="1233" y="1472" width="28" height="22"/>
<text x="908" y="1486">13</text><text x="1247" y="1488">27</text>
<rect x="946" y="1467" width="17.75" height="22"/><rect x="963.75" y="1467" width="17.75" height="22"/><rect x="981.5" y="1467" width="17.75" height="22"/><rect x="999.25" y="1467" width="17.75" height="22"/>
<rect x="1026" y="1467" width="19.6" height="22"/><rect x="1045.6" y="1467" width="19.6" height="22"/><rect x="1065.2" y="1467" width="19.6" height="22"/><rect x="1084.8" y="1467" width="19.6" height="22"/><rect x="1104.4" y="1467" width="19.6" height="22"/>
<rect x="1129" y="1467" width="19.75" height="22"/><rect x="1148.75" y="1467" width="19.75" height="22"/><rect x="1168.5" y="1467" width="19.75" height="22"/><rect x="1188.25" y="1467" width="19.75" height="22"/>
<text x="955" y="1483">14</text><text x="973" y="1483">15</text><text x="990" y="1483">16</text><text x="1008" y="1483">17</text><text x="1036" y="1483">18</text><text x="1055" y="1483">19</text><text x="1075" y="1483">20</text><text x="1095" y="1483">21</text><text x="1114" y="1483">22</text><text x="1139" y="1483">23</text><text x="1159" y="1483">24</text><text x="1178" y="1483">25</text><text x="1198" y="1483">26</text>
<rect x="893" y="1507" width="30" height="22"/><rect x="1233" y="1507" width="28" height="22"/>
<text x="908" y="1523">28</text><text x="1247" y="1523">42</text>
<rect x="946" y="1497" width="17.75" height="20"/><rect x="963.75" y="1497" width="17.75" height="20"/><rect x="981.5" y="1497" width="17.75" height="20"/><rect x="999.25" y="1497" width="17.75" height="20"/>
<rect x="1026" y="1497" width="19.6" height="20"/><rect x="1045.6" y="1497" width="19.6" height="20"/><rect x="1065.2" y="1497" width="19.6" height="20"/><rect x="1084.8" y="1497" width="19.6" height="20"/><rect x="1104.4" y="1497" width="19.6" height="20"/>
<rect x="1129" y="1497" width="19.75" height="20"/><rect x="1148.75" y="1497" width="19.75" height="20"/><rect x="1168.5" y="1497" width="19.75" height="20"/><rect x="1188.25" y="1497" width="19.75" height="20"/>
<text x="955" y="1512">29</text><text x="973" y="1512">30</text><text x="990" y="1512">31</text><text x="1008" y="1512">32</text><text x="1036" y="1512">33</text><text x="1055" y="1512">34</text><text x="1075" y="1512">35</text><text x="1095" y="1512">36</text><text x="1114" y="1512">37</text><text x="1139" y="1512">38</text><text x="1159" y="1512">39</text><text x="1178" y="1512">40</text><text x="1198" y="1512">41</text>
<rect x="928" y="1517" width="18" height="21"/>
<rect x="946" y="1517" width="17.75" height="21"/><rect x="963.75" y="1517" width="17.75" height="21"/><rect x="981.5" y="1517" width="17.75" height="21"/><rect x="999.25" y="1517" width="17.75" height="21"/>
<rect x="1026" y="1517" width="19.6" height="21"/><rect x="1045.6" y="1517" width="19.6" height="21"/><rect x="1065.2" y="1517" width="19.6" height="21"/><rect x="1084.8" y="1517" width="19.6" height="21"/><rect x="1104.4" y="1517" width="19.6" height="21"/>
<rect x="1129" y="1517" width="19.75" height="21"/><rect x="1148.75" y="1517" width="19.75" height="21"/><rect x="1168.5" y="1517" width="19.75" height="21"/><rect x="1188.25" y="1517" width="19.75" height="21"/><rect x="1208" y="1517" width="19" height="21"/>
<text x="937" y="1533">43</text><text x="955" y="1533">44</text><text x="973" y="1533">45</text><text x="990" y="1533">46</text><text x="1008" y="1533">47</text><text x="1036" y="1533">48</text><text x="1055" y="1533">49</text><text x="1075" y="1533">50</text><text x="1095" y="1533">51</text><text x="1114" y="1533">52</text><text x="1139" y="1533">53</text><text x="1159" y="1533">54</text><text x="1178" y="1533">55</text><text x="1198" y="1533">56</text><text x="1217" y="1533">57</text>
</g>
<text x="1320" y="1565" style="font-size:16px;font-weight:normal">WI-36346</text>
</svg>
</body></html>
